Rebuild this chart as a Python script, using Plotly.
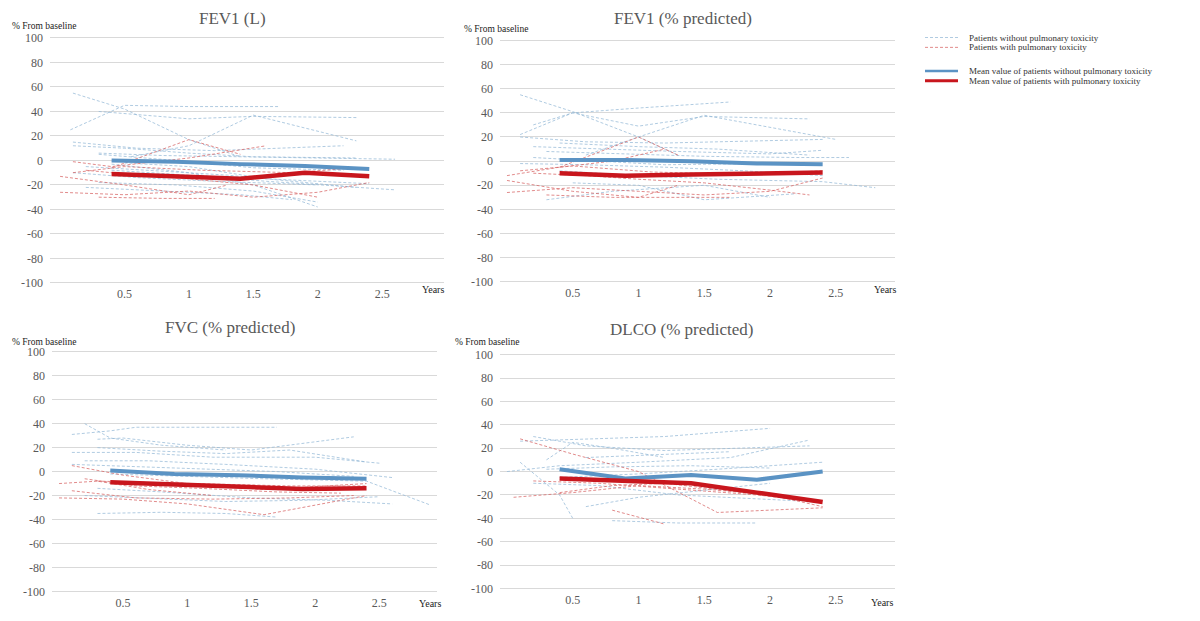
import plotly.graph_objects as go

# ---------------- DATA ----------------
PANEL_TITLES = ["FEV1 (L)", "FEV1 (% predicted)", "FVC (% predicted)", "DLCO (% predicted)"]
Y_TICKS = [100, 80, 60, 40, 20, 0, -20, -40, -60, -80, -100]
Y_TICK_LABELS = ["100", "80", "60", "40", "20", "0", "-20", "-40", "-60", "-80", "-100"]
X_TICKS = [0.5, 1, 1.5, 2, 2.5]
X_TICK_LABELS = ["0.5", "1", "1.5", "2", "2.5"]
MEAN_X = [0.4, 0.9, 1.4, 1.9, 2.4]

# mean curves
FEV1L_MEAN_WITHOUT = [0, -1, -3, -4.5, -7]
FEV1L_MEAN_WITH = [-11, -13, -15, -10, -13]
FEV1P_MEAN_WITHOUT = [1, 1, 0, -2, -2.5]
FEV1P_MEAN_WITH = [-10, -12, -11, -10, -9.5]
FVC_MEAN_WITHOUT = [1, -2, -3, -5, -6]
FVC_MEAN_WITH = [-9, -11, -13, -14.5, -14]
DLCO_MEAN_WITHOUT = [2, -6, -3, -7, 0]
DLCO_MEAN_WITH = [-6, -8, -10, -18, -26]

# individual patients: (years, % from baseline)
FEV1L_WITHOUT = [
    ([0.1, 0.5, 1.0, 1.4], [55, 42, 17, 3]),
    ([0.08, 0.5, 1.0, 1.7], [25, 45, 44, 44]),
    ([0.3, 1.0, 1.5, 2.3], [40, 34, 36, 35]),
    ([0.55, 1.0, 1.5, 2.3], [3, 12, 37, 16]),
    ([0.1, 0.6, 1.2, 2.2], [15, 10, 8, 12]),
    ([0.1, 0.5, 1.0, 1.5, 2.3], [12, 10, 6, 3, 2]),
    ([0.3, 0.8, 1.4, 2.0, 2.6], [6, 4, 3, 2, 1]),
    ([0.2, 0.7, 1.3, 1.9, 2.3], [-5, -8, -12, -18, -22]),
    ([0.4, 1.0, 1.5, 2.0], [-3, -10, -20, -38]),
    ([0.3, 0.9, 1.5, 2.0], [-18, -20, -25, -34]),
    ([0.4, 1.0, 1.6, 2.6], [-8, -12, -17, -24]),
    ([0.2, 0.8, 1.4, 1.8], [-22, -25, -28, -32]),
    ([0.5, 1.0, 1.6, 2.4], [-2, -5, -15, -19]),
    ([0.3, 0.9, 1.5, 2.2], [5, 0, -6, -8]),
    ([0.1, 0.6, 1.2, 2.0], [-10, -14, -17, -20]),
]
FEV1L_WITH = [
    ([0.4, 1.0, 1.4], [-6, 17, 5]),
    ([0.0, 0.5, 1.0, 1.5, 2.0, 2.4], [-26, -28, -25, -30, -26, -18]),
    ([0.0, 0.5, 1.0, 1.3], [-13, -20, -28, -20]),
    ([0.1, 0.4, 1.0, 1.6], [-1, -5, 2, 12]),
    ([0.2, 0.6, 1.0, 1.5, 2.0], [-8, -12, -15, -20, -30]),
    ([0.3, 0.8, 1.2], [-30, -31, -31]),
    ([0.1, 0.5, 1.1, 1.8, 2.3], [-10, -5, -8, -10, -6]),
]
FEV1P_WITHOUT = [
    ([0.1, 0.5, 1.0, 1.3], [55, 41, 20, 5]),
    ([0.1, 0.5, 1.0, 1.7], [22, 40, 44, 49]),
    ([0.2, 0.5, 1.0, 1.5, 2.3], [30, 40, 29, 37, 35]),
    ([0.6, 1.0, 1.5, 2.5], [5, 20, 38, 18]),
    ([0.1, 0.6, 1.2, 2.4], [20, 16, 15, 18]),
    ([0.2, 0.7, 1.3, 2.0, 2.4], [12, 10, 8, 6, 9]),
    ([0.3, 0.9, 1.5, 2.2, 2.6], [8, 6, 4, 3, 3]),
    ([0.1, 0.6, 1.2, 1.8, 2.4], [-2, -3, -5, -8, -12]),
    ([0.4, 1.0, 1.6, 2.4, 2.8], [-8, -12, -15, -17, -22]),
    ([0.3, 0.8, 1.5, 2.0], [-32, -25, -20, -30]),
    ([0.5, 1.0, 1.5, 2.2], [-18, -20, -32, -27]),
    ([0.2, 0.7, 1.2, 1.9], [3, 0, -3, -2]),
    ([0.4, 1.0, 1.6, 2.3], [15, 12, 10, 5]),
]
FEV1P_WITH = [
    ([0.4, 1.0, 1.3], [-5, 20, 5]),
    ([0.0, 0.5, 1.0, 1.5, 2.0, 2.4], [-26, -22, -25, -28, -25, -14]),
    ([0.0, 0.5, 1.0, 1.3], [-16, -25, -30, -20]),
    ([0.0, 0.4, 0.8, 1.2], [-12, -5, 0, 10]),
    ([0.2, 0.6, 1.0, 1.5, 2.0, 2.3], [-10, -12, -15, -18, -24, -28]),
    ([0.3, 0.8, 1.2, 1.7], [-28, -30, -30, -30]),
    ([0.1, 0.5, 1.1, 1.8, 2.4], [-8, -4, -9, -11, -8]),
]
FVC_WITHOUT = [
    ([0.2, 0.4, 0.8, 1.3], [40, 28, 22, 18]),
    ([0.1, 0.4, 0.6, 1.7], [31, 34, 37, 37]),
    ([0.3, 0.5, 1.0, 1.5, 2.3], [27, 28, 22, 18, 29]),
    ([0.3, 0.8, 1.3, 1.8, 2.4], [20, 17, 15, 18, 8]),
    ([0.1, 0.6, 1.2, 2.0, 2.5], [16, 16, 12, 12, 7]),
    ([0.2, 0.7, 1.3, 2.0, 2.6], [9, 9, 6, 2, -5]),
    ([0.1, 0.6, 1.1, 1.7, 2.3], [6, 4, 2, 0, -4]),
    ([0.4, 1.0, 1.6, 2.4, 2.9], [-2, -4, -6, -8, -28]),
    ([0.3, 0.8, 1.5, 2.1, 2.6], [-14, -17, -22, -24, -27]),
    ([0.3, 0.8, 1.3, 1.7], [-35, -34, -35, -38]),
    ([0.2, 0.7, 1.3, 1.9, 2.5], [-20, -22, -25, -24, -21]),
]
FVC_WITH = [
    ([0.1, 0.5, 1.0, 1.6, 2.4], [5, -3, -10, -15, -10]),
    ([0.0, 0.5, 1.0, 1.6, 2.0, 2.4], [-22, -23, -27, -36, -28, -20]),
    ([0.0, 0.3, 0.7, 1.2], [-10, -8, -15, -20]),
    ([0.1, 0.6, 1.2, 1.8, 2.3], [-16, -22, -23, -22, -20]),
    ([0.2, 0.6, 1.1, 1.7, 2.2], [-6, -12, -14, -17, -18]),
    ([0.3, 0.7, 1.2, 1.8, 2.4], [-8, -9, -10, -12, -12]),
]
DLCO_WITHOUT = [
    ([0.1, 0.6, 1.2, 2.0], [26, 28, 30, 37]),
    ([0.0, 0.4, 1.0, 1.7, 2.3], [0, 5, 8, 12, 27]),
    ([0.3, 0.5, 0.8, 1.2], [10, 25, 20, 12]),
    ([0.1, 0.4, 0.5], [8, -20, -40]),
    ([0.2, 0.6, 1.2, 1.8, 2.3], [30, 22, 18, 20, 22]),
    ([0.4, 1.0, 1.6, 2.4], [-5, -2, 2, 8]),
    ([0.6, 1.0, 1.5, 2.0], [-30, -22, -16, -10]),
    ([0.8, 1.3, 1.9], [-42, -44, -44]),
    ([0.3, 0.8, 1.4, 2.0], [2, 4, 5, 3]),
    ([0.2, 0.7, 1.3, 2.2], [-10, -12, -20, -25]),
    ([0.6, 1.1, 1.7], [12, 14, 17]),
]
DLCO_WITH = [
    ([0.05, 0.5, 1.0, 1.5, 2.0, 2.4], [-22, -18, -12, -15, -20, -30]),
    ([0.1, 0.5, 1.0, 1.6, 2.0, 2.4], [28, 15, 0, -35, -33, -31]),
    ([0.8, 1.2], [-33, -45]),
    ([0.2, 0.7, 1.3, 1.9, 2.3], [-8, -10, -15, -20, -25]),
    ([0.4, 0.8, 1.2, 1.8], [-18, -12, -10, -18]),
]

LEGEND_LABELS = [
    "Patients without pulmonary toxicity",
    "Patients with pulmonary toxicity",
    "Mean value of patients without pulmonary toxicity",
    "Mean value of patients with pulmonary toxicity",
]

# ---------------- STYLE / LAYOUT ----------------
W, H = 1200, 621
C_IND_BLUE = "rgba(150,185,215,0.75)"
C_IND_RED = "rgba(215,100,100,0.75)"
C_MEAN_BLUE = "#5b93c4"
C_MEAN_RED = "#c8161d"
SERIF = "Liberation Serif"


def px(x):
    return x / W


def py(y):
    return 1 - y / H


# pixel boxes: (left, right, top, bottom) of +/-102 area
panels = [
    dict(box=(50, 444, 32, 285.5), xr=[-0.078, 2.98], title=(233, 15), lab=(10, 22), yrs=(433, 290),
         without=FEV1L_WITHOUT, with_=FEV1L_WITH, mw=FEV1L_MEAN_WITHOUT, mr=FEV1L_MEAN_WITH),
    dict(box=(500, 895, 34.5, 284.4), xr=[-0.053, 2.95], title=(683, 15), lab=(462, 25), yrs=(885, 290),
         without=FEV1P_WITHOUT, with_=FEV1P_WITH, mw=FEV1P_MEAN_WITHOUT, mr=FEV1P_MEAN_WITH),
    dict(box=(52, 437, 350.5, 598.4), xr=[-0.055, 2.95], title=(230, 328), lab=(10, 343), yrs=(430, 608),
         without=FVC_WITHOUT, with_=FVC_WITH, mw=FVC_MEAN_WITHOUT, mr=FVC_MEAN_WITH),
    dict(box=(500, 895, 353.5, 595.4), xr=[-0.053, 2.95], title=(682, 330), lab=(453, 343), yrs=(882, 607),
         without=DLCO_WITHOUT, with_=DLCO_WITH, mw=DLCO_MEAN_WITHOUT, mr=DLCO_MEAN_WITH),
]

fig = go.Figure()
annotations = []
shapes = []
layout = {}

for i, p in enumerate(panels):
    n = "" if i == 0 else str(i + 1)
    xa, ya = "x" + n, "y" + n
    l, r, t, b = p["box"]
    layout["xaxis" + n] = dict(
        domain=[px(l), px(r)], range=p["xr"], anchor=ya, tickvals=X_TICKS, ticktext=X_TICK_LABELS,
        showgrid=False, zeroline=False, showline=False, ticks="",
        tickfont=dict(family=SERIF, size=12, color="#595959"),
    )
    layout["yaxis" + n] = dict(
        domain=[py(b), py(t)], range=[-102, 102], anchor=xa, tickvals=Y_TICKS, ticktext=Y_TICK_LABELS,
        showgrid=True, gridcolor="#d9d9d9", gridwidth=1, zeroline=False, showline=False, ticks="",
        ticklabelstandoff=6, tickfont=dict(family=SERIF, size=12, color="#595959"),
    )
    for xs, ys in p["without"]:
        fig.add_trace(go.Scatter(x=xs, y=ys, xaxis=xa, yaxis=ya, mode="lines", showlegend=False,
                                 line=dict(color=C_IND_BLUE, width=1, dash="3px,2px"), hoverinfo="skip"))
    for xs, ys in p["with_"]:
        fig.add_trace(go.Scatter(x=xs, y=ys, xaxis=xa, yaxis=ya, mode="lines", showlegend=False,
                                 line=dict(color=C_IND_RED, width=1, dash="3px,2px"), hoverinfo="skip"))
    fig.add_trace(go.Scatter(x=MEAN_X, y=p["mw"], xaxis=xa, yaxis=ya, mode="lines", showlegend=False,
                             line=dict(color=C_MEAN_BLUE, width=4)))
    fig.add_trace(go.Scatter(x=MEAN_X, y=p["mr"], xaxis=xa, yaxis=ya, mode="lines", showlegend=False,
                             line=dict(color=C_MEAN_RED, width=4.5)))

    tx, ty = p["title"]
    annotations.append(dict(x=px(tx), y=py(ty), xref="paper", yref="paper", text=PANEL_TITLES[i],
                            showarrow=False, xanchor="center", yanchor="middle",
                            font=dict(family=SERIF, size=17, color="#595959")))
    lx, ly = p["lab"]
    annotations.append(dict(x=px(lx), y=py(ly), xref="paper", yref="paper", text="% From baseline",
                            showarrow=False, xanchor="left", yanchor="middle",
                            font=dict(family=SERIF, size=9.5, color="#222222")))
    yx, yy = p["yrs"]
    annotations.append(dict(x=px(yx), y=py(yy), xref="paper", yref="paper", text="Years",
                            showarrow=False, xanchor="center", yanchor="middle",
                            font=dict(family=SERIF, size=10, color="#222222")))

# manual legend
leg_rows = [
    (34, C_IND_BLUE, 1, "3px,2px"),
    (44, C_IND_RED, 1, "3px,2px"),
    (68, C_MEAN_BLUE, 2.5, "solid"),
    (78, C_MEAN_RED, 3, "solid"),
]
for (yy, col, wdt, dsh), txt in zip(leg_rows, LEGEND_LABELS):
    shapes.append(dict(type="line", xref="paper", yref="paper", x0=px(925), x1=px(958), y0=py(yy), y1=py(yy),
                       line=dict(color=col, width=wdt, dash=dsh)))
    annotations.append(dict(x=px(967), y=py(yy), xref="paper", yref="paper", text=txt, showarrow=False,
                            xanchor="left", yanchor="middle", font=dict(family=SERIF, size=9, color="#333333")))

fig.update_layout(
    width=W, height=H, margin=dict(l=0, r=0, t=0, b=0),
    font=dict(family=SERIF),
    paper_bgcolor="white", plot_bgcolor="white", showlegend=False,
    annotations=annotations, shapes=shapes, **layout,
)

fig.write_html("out.html", config={"displayModeBar": False},
               post_script="document.body.style.margin='0';document.body.style.overflow='hidden';")
